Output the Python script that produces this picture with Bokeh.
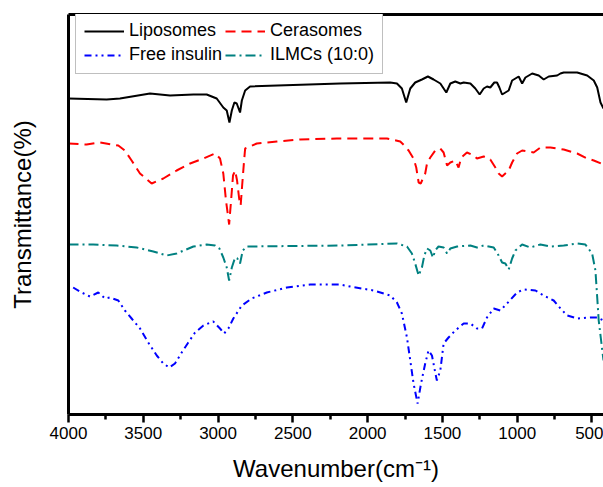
from bokeh.plotting import figure
from bokeh.models import Range1d, LinearAxis, FixedTicker, Legend, LegendItem
from bokeh.embed import file_html
from bokeh.resources import INLINE

# ---- data (wavenumber, cm-1 ; transmittance, arbitrary offset units) ----
lipo_wn = [4000, 3745, 3656, 3455, 3321, 3165, 3076, 3009, 2965, 2942, 2924, 2908, 2891, 2875, 2853, 2841,
           2819, 2786, 2184, 1849, 1804, 1771, 1742, 1715, 1682, 1637, 1597, 1559, 1514, 1474, 1447, 1414,
           1380, 1358, 1313, 1280, 1251, 1224, 1202, 1180, 1153, 1135, 1119, 1101, 1079, 1057, 1034, 1012,
           990, 967, 945, 900, 856, 823, 789, 733, 711, 689, 599, 532, 488, 465, 443, 423]
lipo_t = [316, 315, 316, 321, 319, 320, 320, 316, 307, 304, 292, 304, 312, 311, 302, 314,
          324, 328, 331, 332, 331, 326, 312, 326, 332, 335, 338, 335, 331, 322, 331, 333,
          331, 332, 331, 326, 320, 326, 328, 327, 332, 332, 327, 320, 322, 324, 334, 336,
          338, 331, 337, 341, 339, 335, 338, 339, 341, 342, 342, 339, 334, 327, 312, 306]

cera_wn = [4000, 3879, 3790, 3667, 3623, 3578, 3522, 3444, 3366, 3277, 3187, 3098, 3020, 2987, 2965, 2947,
           2926, 2913, 2900, 2886, 2873, 2859, 2849, 2839, 2826, 2819, 2741, 2607, 2451, 2206, 1871, 1782,
           1748, 1726, 1693, 1675, 1659, 1645, 1615, 1603, 1581, 1548, 1514, 1492, 1469, 1447, 1414, 1392,
           1374, 1336, 1291, 1269, 1224, 1180, 1146, 1124, 1101, 1057, 1034, 1001, 967, 890, 845, 778,
           689, 599, 532, 488, 423]
cera_t = [271, 270, 272, 269, 264, 254, 241, 231, 236, 244, 251, 256, 261, 256, 241, 214,
          190, 214, 239, 244, 234, 216, 209, 229, 254, 266, 271, 273, 275, 276, 276, 273,
          268, 264, 256, 247, 232, 231, 241, 251, 257, 264, 266, 262, 249, 252, 254, 247,
          257, 262, 259, 256, 258, 255, 247, 241, 238, 244, 252, 261, 264, 262, 267, 267,
          265, 261, 256, 254, 250]

ilmc_wn = [4000, 3835, 3678, 3544, 3433, 3343, 3277, 3165, 3076, 3020, 2991, 2965, 2942, 2926, 2908, 2886,
           2871, 2853, 2835, 2808, 2184, 1804, 1737, 1704, 1682, 1659, 1637, 1621, 1603, 1581, 1563, 1548,
           1526, 1492, 1469, 1447, 1402, 1313, 1269, 1224, 1157, 1124, 1101, 1079, 1057, 1034, 1012, 967,
           912, 845, 778, 689, 599, 544, 499, 477, 465, 455, 439, 423]
ilmc_t = [170, 170, 169, 167, 163, 159, 161, 168, 170, 169, 166, 157, 147, 134, 147, 157,
          156, 151, 164, 168, 169, 171, 168, 161, 151, 139, 147, 159, 166, 164, 157, 164,
          168, 167, 161, 166, 168, 169, 167, 169, 167, 159, 152, 151, 145, 156, 164, 170,
          167, 170, 168, 169, 171, 170, 161, 144, 117, 94, 74, 54]

ins_wn = [3969, 3912, 3857, 3801, 3756, 3723, 3667, 3623, 3578, 3522, 3467, 3410, 3366, 3326, 3288, 3243,
          3199, 3154, 3098, 3032, 2987, 2960, 2931, 2898, 2841, 2775, 2674, 2540, 2384, 2184, 2117, 1961,
          1849, 1804, 1771, 1737, 1715, 1693, 1666, 1643, 1615, 1593, 1570, 1548, 1537, 1514, 1492, 1459,
          1414, 1358, 1313, 1269, 1235, 1202, 1157, 1113, 1068, 1001, 957, 878, 823, 756, 711, 666,
          599, 510, 465, 423]
ins_t = [127, 122, 118, 122, 116, 117, 114, 104, 96, 86, 72, 59, 51, 47, 51, 62,
         72, 82, 89, 93, 86, 81, 86, 96, 109, 116, 122, 127, 130, 130, 128, 124,
         119, 112, 101, 77, 54, 31, 11, 31, 51, 64, 59, 42, 34, 44, 71, 77,
         84, 91, 91, 86, 86, 97, 106, 104, 111, 122, 125, 124, 119, 114, 106, 99,
         96, 97, 97, 94]

series_names = ["Liposomes", "Cerasomes", "Free insulin", "ILMCs (10:0)"]
x_ticks = [4000, 3500, 3000, 2500, 2000, 1500, 1000, 500]

FONT = "Liberation Sans"

p = figure(width=603, height=487, output_backend="svg", toolbar_location=None,
           x_range=Range1d(4000, 423), y_range=Range1d(0, 400),
           min_border_left=68, min_border_right=0, min_border_top=14, min_border_bottom=73,
           background_fill_color="white", border_fill_color="white")
p.outline_line_color = None
p.grid.visible = False

r_lipo = p.line(lipo_wn, lipo_t, line_color="black", line_width=2)
r_cera = p.line(cera_wn, cera_t, line_color="#FF0000", line_width=2, line_dash="10 6")
r_ins = p.line(ins_wn, ins_t, line_color="#0000FF", line_width=2, line_dash="7 4 2 4 2 4")
r_ilmc = p.line(ilmc_wn, ilmc_t, line_color="#008080", line_width=2, line_dash="10 4 2 4")

xa = p.xaxis[0]
xa.ticker = FixedTicker(ticks=x_ticks, minor_ticks=[t - 250 for t in x_ticks])
xa.axis_line_width = 3
xa.axis_line_color = "black"
xa.major_tick_line_color = "black"
xa.minor_tick_line_color = "black"
xa.major_tick_line_width = 2.5
xa.minor_tick_line_width = 2.5
xa.major_tick_out = 8
xa.major_tick_in = 0
xa.minor_tick_out = 5
xa.minor_tick_in = 0
xa.major_label_text_font = FONT
xa.major_label_text_font_size = "17px"
xa.major_label_text_color = "black"
xa.major_label_standoff = 4
xa.axis_label = "Wavenumber(cm\u207b\u00b9)"
xa.axis_label_text_font = FONT
xa.axis_label_text_font_size = "24px"
xa.axis_label_text_font_style = "normal"
xa.axis_label_text_color = "black"
xa.axis_label_standoff = 13

ya = p.yaxis[0]
ya.ticker = FixedTicker(ticks=[])
ya.axis_line_width = 3
ya.axis_line_color = "black"
ya.major_tick_line_color = None
ya.minor_tick_line_color = None
ya.major_label_text_font_size = "0px"
ya.axis_label = "Transmittance(%)"
ya.axis_label_text_font = FONT
ya.axis_label_text_font_size = "24px"
ya.axis_label_text_font_style = "normal"
ya.axis_label_text_color = "black"
ya.axis_label_standoff = 33

top = LinearAxis(ticker=FixedTicker(ticks=[]), axis_line_width=3, axis_line_color="black",
                 major_tick_line_color=None, minor_tick_line_color=None,
                 major_label_text_font_size="0px")
p.add_layout(top, "above")

legend = Legend(items=[LegendItem(label=series_names[0], renderers=[r_lipo]),
                       LegendItem(label=series_names[1], renderers=[r_cera]),
                       LegendItem(label=series_names[2], renderers=[r_ins]),
                       LegendItem(label=series_names[3], renderers=[r_ilmc])],
                location=(7, 340), orientation="horizontal", ncols=2,
                label_text_font=FONT, label_text_font_size="18px", label_text_color="black",
                glyph_width=40, glyph_height=20, label_height=20, label_standoff=5,
                spacing=3, padding=8, margin=0,
                border_line_color="#808080", border_line_width=1,
                background_fill_color="white", background_fill_alpha=1.0)
p.add_layout(legend, "center")

open("out.html", "w").write(file_html(p, INLINE))
